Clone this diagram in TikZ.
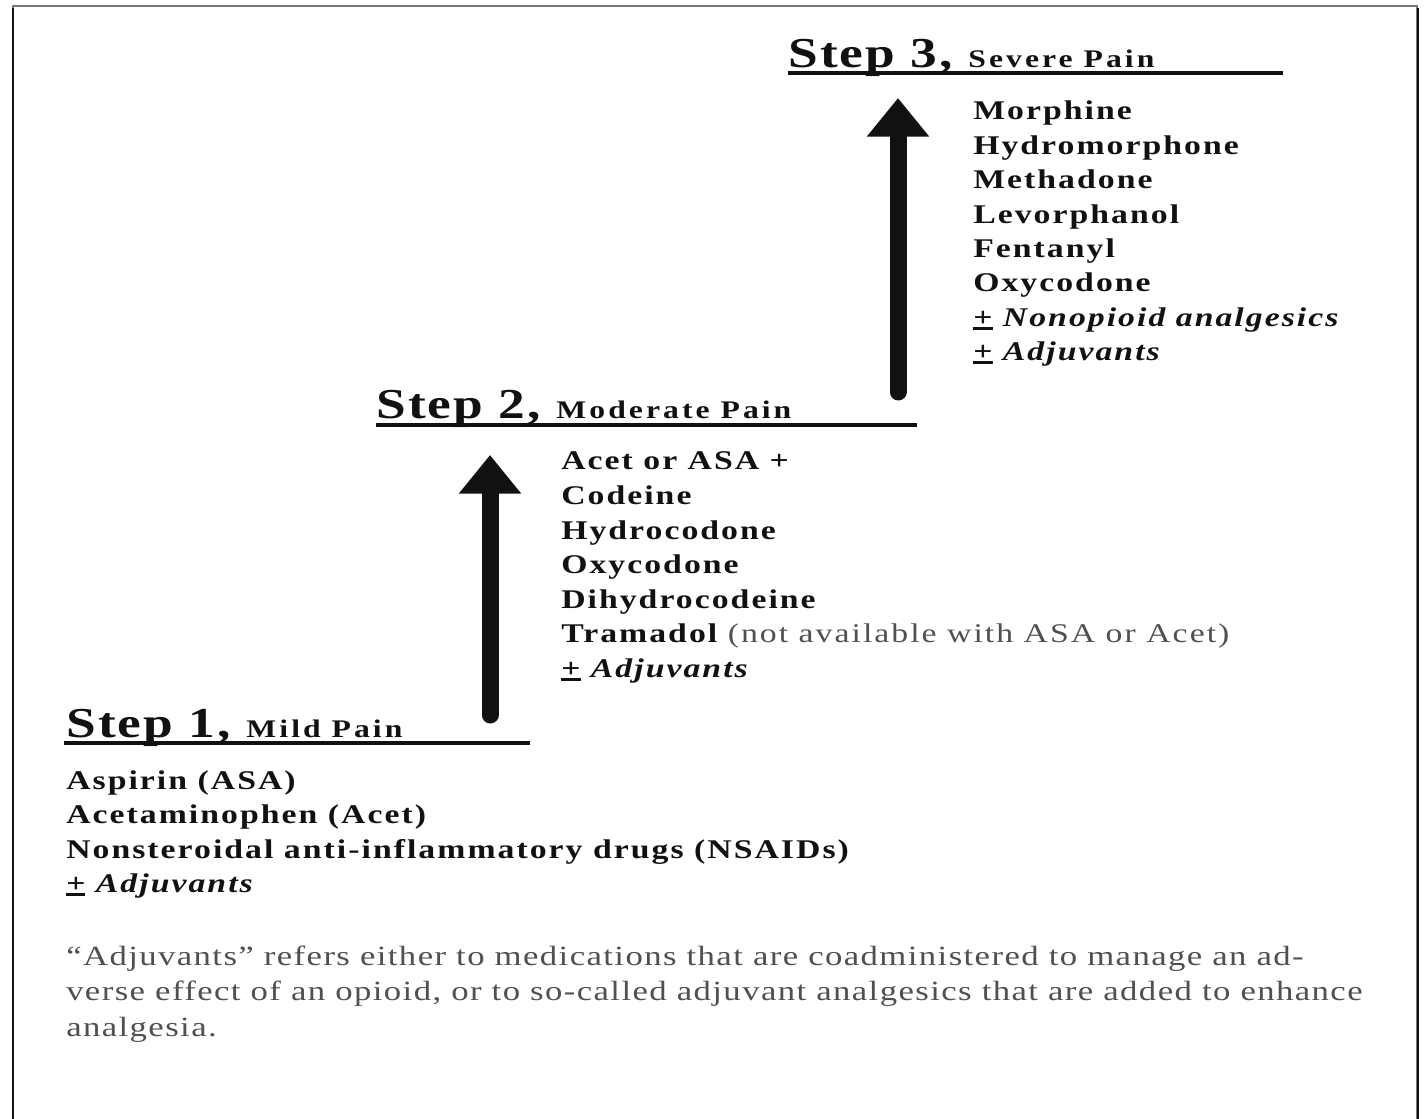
\documentclass[tikz,border=0pt]{standalone}
\usepackage{fontspec}
\setmainfont{Liberation Serif}
\newfontfamily\wideserif[FakeStretch=1.25,LetterSpace=7.5]{Liberation Serif}
\newfontfamily\widehdr[FakeStretch=1.25,LetterSpace=5]{Liberation Serif}
\newfontfamily\widesub[FakeStretch=1.25,LetterSpace=12]{Liberation Serif}
\newfontfamily\widenote[FakeStretch=1.25,LetterSpace=5]{Liberation Serif}
\usetikzlibrary{arrows.meta}
\definecolor{ink}{HTML}{111111}
\definecolor{notegray}{HTML}{505050}
\definecolor{framegray}{HTML}{777777}
\tikzset{
  listtxt/.style={inner sep=0pt, anchor=base west, text=ink,
    font=\wideserif\bfseries\fontsize{20.25}{24}\selectfont},
  hdrtxt/.style={inner sep=0pt, anchor=base west, text=ink,
    font=\widehdr\bfseries\fontsize{32}{36}\selectfont},
  notetxt/.style={inner sep=0pt, anchor=base west, text=notegray,
    font=\widenote\fontsize{20.85}{24}\selectfont},
  uline/.style={draw=ink, line width=3pt},
  bigarrow/.style={draw=ink, line width=12.75pt, line cap=round,
    -{Triangle[width=45pt,length=29pt]}},
}
\newcommand{\subhdr}[1]{{\widesub\bfseries\fontsize{19}{22}\selectfont #1}}
\newcommand{\pmsym}{{\setbox0\hbox{+}\rlap{\rule[-0.13em]{\wd0}{0.11em}}\box0}}
\newcommand{\pmadj}[1]{\pmsym\ \textit{#1}}
\begin{document}
\begin{tikzpicture}[x=0.75pt,y=-0.75pt]
\useasboundingbox (0,0) rectangle (1424,1119);
% frame
\draw[framegray, line width=1.5pt] (13,1125) -- (13,6) -- (1417,6) -- (1417,1125);
\draw[ink, line width=1.5pt] (12.5,1125) -- (12.5,8);
\draw[ink, line width=1.5pt] (1418,1125) -- (1418,8);

% Step 3
\node[hdrtxt] (s3) at (788,68) {Step 3, \subhdr{Severe Pain}};
\coordinate (s3end) at (1283,73);
\draw[uline] (788,73) -- (s3end);
\node[listtxt] (m1) at (973,120) {Morphine};
\node[listtxt] (m2) at (973,154.4) {Hydromorphone};
\node[listtxt] (m3) at (973,188.8) {Methadone};
\node[listtxt] (m4) at (973,223.2) {Levorphanol};
\node[listtxt] (m5) at (973,257.6) {Fentanyl};
\node[listtxt] (m6) at (973,292) {Oxycodone};
\node[listtxt] (m7) at (973,326.4) {\pmadj{Nonopioid analgesics}};
\node[listtxt] (m8) at (973,360.8) {\pmadj{Adjuvants}};
\coordinate (a3b) at (898,392);
\coordinate (a3t) at (898,98);
\draw[bigarrow] (a3b) -- (a3t);

% Step 2
\node[hdrtxt] (s2) at (376,419) {Step 2, \subhdr{Moderate Pain}};
\coordinate (s2end) at (917,425);
\draw[uline] (376,425) -- (s2end);
\node[listtxt] (n1) at (561,470) {Acet or ASA +};
\node[listtxt] (n2) at (561,504.5) {Codeine};
\node[listtxt] (n3) at (561,539) {Hydrocodone};
\node[listtxt] (n4) at (561,573.5) {Oxycodone};
\node[listtxt] (n5) at (561,608) {Dihydrocodeine};
\node[listtxt] (n6) at (561,642.5) {Tramadol {\mdseries\color{notegray}(not available with ASA or Acet)}};
\node[listtxt] (n7) at (561,677) {\pmadj{Adjuvants}};
\coordinate (a2b) at (490,715);
\coordinate (a2t) at (490,455);
\draw[bigarrow] (a2b) -- (a2t);

% Step 1
\node[hdrtxt] (s1) at (66,737) {Step 1, \subhdr{Mild Pain}};
\coordinate (s1end) at (530,743);
\draw[uline] (64,743) -- (s1end);
\node[listtxt] (p1) at (66,789) {Aspirin (ASA)};
\node[listtxt] (p2) at (66,823.5) {Acetaminophen (Acet)};
\node[listtxt] (p3) at (66,858) {Nonsteroidal anti-inflammatory drugs (NSAIDs)};
\node[listtxt] (p4) at (66,892.5) {\pmadj{Adjuvants}};

% note
\node[notetxt] (f1) at (66,965) {“Adjuvants” refers either to medications that are coadministered to manage an ad-};
\node[notetxt] (f2) at (66,1000.5) {verse effect of an opioid, or to so-called adjuvant analgesics that are added to enhance};
\node[notetxt] (f3) at (66,1036) {analgesia.};
\end{tikzpicture}
\end{document}
